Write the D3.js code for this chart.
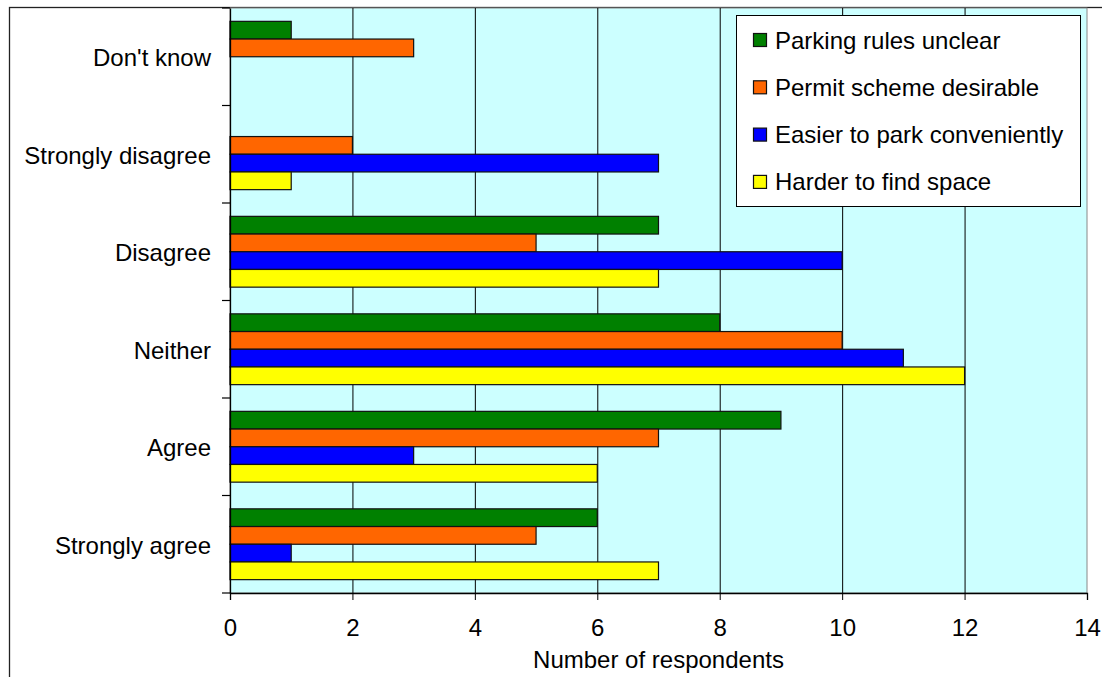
<!DOCTYPE html>
<html><head><meta charset="utf-8">
<script src="https://cdn.jsdelivr.net/npm/d3@7"></script>
<style>body{margin:0;background:#fff}svg{display:block}</style>
</head><body>
<svg id="c" width="1102" height="677"></svg>
<script>
const categories = ["Don't know","Strongly disagree","Disagree","Neither","Agree","Strongly agree"];
const seriesNames = ["Parking rules unclear","Permit scheme desirable","Easier to park conveniently","Harder to find space"];
const seriesColors = ["#008000","#FF6600","#0000FF","#FFFF00"];
const parkingRulesUnclear = [1,0,7,8,9,6];
const permitSchemeDesirable = [3,2,5,10,7,5];
const easierToPark = [0,7,10,11,3,1];
const harderToFindSpace = [0,1,7,12,6,7];
const xTicks = [0,2,4,6,8,10,12,14];
const xLabel = "Number of respondents";

const series = [parkingRulesUnclear, permitSchemeDesirable, easierToPark, harderToFindSpace];
const svg = d3.select("#c");
const font = "'Liberation Sans', Arial, sans-serif";
const FS = "24px";
const L = 230, R = 1087, T = 8, B = 593;

// chart area border (clipped)
svg.append("rect").attr("x",9.5).attr("y",7.5).attr("width",1200).attr("height",800)
  .attr("fill","#fff").attr("stroke","#222").attr("stroke-width",1.3);

const x = d3.scaleLinear().domain([0,14]).range([L,R]);
const y = d3.scaleBand().domain(categories).range([T,B]).paddingInner(0).paddingOuter(0);
const inner = d3.scaleBand().domain(d3.range(4)).range([0,y.bandwidth()]).paddingOuter(0.754).paddingInner(0);

svg.append("rect").attr("x",L).attr("y",T).attr("width",R-L).attr("height",B-T)
  .attr("fill","#CCFFFF").attr("stroke","#888").attr("stroke-width",1);

// gridlines
svg.append("g").selectAll("line").data(xTicks.slice(1,-1)).join("line")
  .attr("x1",d=>x(d)+0.5).attr("x2",d=>x(d)+0.5).attr("y1",T).attr("y2",B)
  .attr("stroke","#000").attr("stroke-width",1);

// bars
const g = svg.append("g");
series.forEach((vals,si)=>{
  g.selectAll(null).data(vals.map((v,i)=>({v,c:categories[i]})).filter(d=>d.v>0)).join("rect")
    .attr("x",L).attr("y",d=>y(d.c)+inner(si))
    .attr("width",d=>x(d.v)-L).attr("height",inner.bandwidth())
    .attr("fill",seriesColors[si]).attr("stroke","#111").attr("stroke-width",1.2);
});

// x axis
const xa = svg.append("g").attr("transform",`translate(0,${B})`)
  .call(d3.axisBottom(x).tickValues(xTicks).tickSize(7).tickPadding(19).tickFormat(d3.format("d")));
xa.select(".domain").attr("stroke","#000").attr("stroke-width",1.3);
xa.selectAll(".tick line").attr("stroke","#000");
xa.selectAll("text").attr("font-family",font).attr("font-size",FS).attr("fill","#000");

// y axis
const ya = svg.append("g").attr("transform",`translate(${L},0)`)
  .call(d3.axisLeft(y).tickSize(0).tickPadding(19));
ya.select(".domain").attr("stroke","#000").attr("stroke-width",1.3);
ya.selectAll("text").attr("font-family",font).attr("font-size",FS).attr("fill","#000").attr("dy","0.4em");
// y ticks at band boundaries
svg.append("g").selectAll("line").data(d3.range(categories.length+1)).join("line")
  .attr("x1",L-8).attr("x2",L).attr("y1",i=>T+i*y.step()).attr("y2",i=>T+i*y.step())
  .attr("stroke","#000").attr("stroke-width",1.2);

svg.append("text").attr("x",(L+R)/2).attr("y",668).attr("text-anchor","middle")
  .attr("font-family",font).attr("font-size",FS).text(xLabel);

// legend
const lg = svg.append("g");
lg.append("rect").attr("x",736.5).attr("y",15.5).attr("width",344).attr("height",191)
  .attr("fill","#fff").attr("stroke","#000").attr("stroke-width",1);
seriesNames.forEach((n,i)=>{
  const cy = 40 + i*47.3;
  lg.append("rect").attr("x",753.5).attr("y",cy-6.5).attr("width",13).attr("height",13)
    .attr("fill",seriesColors[i]).attr("stroke","#111").attr("stroke-width",1.2);
  lg.append("text").attr("x",775).attr("y",cy+8.5).attr("font-family",font)
    .attr("font-size",FS).text(n);
});
</script>
</body></html>
